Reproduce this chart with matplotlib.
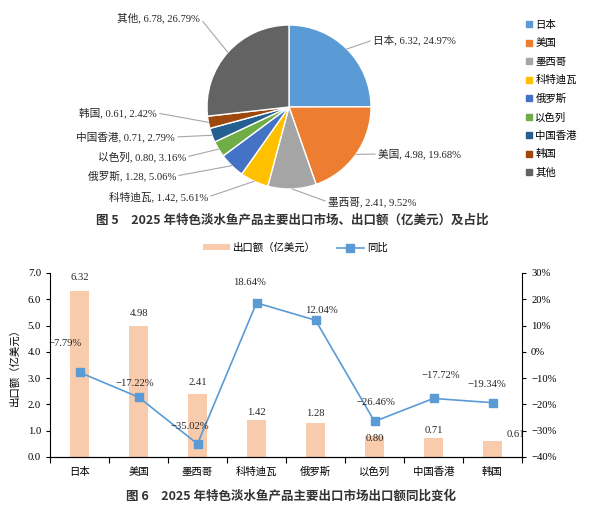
import numpy as np
import matplotlib.pyplot as plt
from matplotlib.patches import Patch
from matplotlib.lines import Line2D
from matplotlib.ticker import FuncFormatter

plt.rcParams['font.family'] = ['Noto Sans CJK SC', 'DejaVu Sans']
SERIF = ['Liberation Serif', 'Noto Sans CJK SC']
CJK = ['Noto Sans CJK SC', 'DejaVu Sans']

# ---- data: pie (figure 5)
pie_names = ['日本', '美国', '墨西哥', '科特迪瓦', '俄罗斯', '以色列', '中国香港', '韩国', '其他']
pie_values = [6.32, 4.98, 2.41, 1.42, 1.28, 0.80, 0.71, 0.61, 6.78]
pie_pcts = [24.97, 19.68, 9.52, 5.61, 5.06, 3.16, 2.79, 2.42, 26.79]

# ---- data: bars + line (figure 6)
markets = ['日本', '美国', '墨西哥', '科特迪瓦', '俄罗斯', '以色列', '中国香港', '韩国']
export_value = [6.32, 4.98, 2.41, 1.42, 1.28, 0.80, 0.71, 0.61]
yoy = [-7.79, -17.22, -35.02, 18.64, 12.04, -26.46, -17.72, -19.34]

pie_colors = ['#5B9BD5', '#ED7D31', '#A5A5A5', '#FFC000', '#4472C4',
              '#70AD47', '#255E91', '#9E480E', '#636363']

W, H = 600, 508
fig = plt.figure(figsize=(W / 100, H / 100), dpi=100)

# pie axes covers the top band, scaled so 1 data unit = R pixels
CX, CY, R = 289, 107, 82
TOP_H = 214
axp = fig.add_axes([0, 1 - TOP_H / H, 1, TOP_H / H])
wedges, _ = axp.pie(pie_values, colors=pie_colors, startangle=90, counterclock=False,
                    wedgeprops=dict(edgecolor='white', linewidth=1.0))
axp.set_aspect('auto')
axp.set_xlim(-CX / R, (W - CX) / R)
axp.set_ylim((CY - TOP_H) / R, CY / R)
axp.axis('off')

# label anchor positions (pixels) and alignment
pie_lab_px = [(373, 40, 'left'), (378, 154, 'left'), (328, 202, 'left'),
              (208, 197, 'right'), (176, 176, 'right'), (186, 157, 'right'),
              (175, 137, 'right'), (157, 113, 'right'), (200, 18, 'right')]
for w, name, v, p, (px, py, ha) in zip(wedges, pie_names, pie_values, pie_pcts, pie_lab_px):
    ang = np.deg2rad((w.theta1 + w.theta2) / 2)
    xy = (np.cos(ang), np.sin(ang))
    xt = ((px - CX) / R, (CY - py) / R)
    axp.annotate(f'{name}, {v:.2f}, {p:.2f}%', xy=xy, xytext=xt, ha=ha, va='center',
                 fontsize=7.7, family=SERIF, color='#262626',
                 arrowprops=dict(arrowstyle='-', color='#A6A6A6', lw=0.8,
                                 shrinkA=0, shrinkB=0,
                                 relpos=(0, 0.5) if ha == 'left' else (1, 0.5)))

pie_handles = [Line2D([], [], marker='s', linestyle='none', markersize=4,
                      markerfacecolor=c, markeredgecolor=c) for c in pie_colors]
fig.legend(pie_handles, pie_names, loc='upper left', bbox_to_anchor=(525 / W, 1 - 20 / H),
           frameon=False, fontsize=7.5, labelspacing=0.8, handletextpad=0.2,
           handlelength=0.8, borderaxespad=0, borderpad=0)

fig.text(292 / W, 1 - 220 / H, '图 5　2025 年特色淡水鱼产品主要出口市场、出口额（亿美元）及占比',
         ha='center', va='center', fontsize=9, fontweight='bold', color='#333333')

# ---- bar + line chart
ax = fig.add_axes([50 / W, (H - 457) / H, 472 / W, 184 / H])
x = np.arange(len(markets))
ax.bar(x, export_value, width=0.32, color='#F8CBAD', zorder=1)
ax.set_xlim(-0.5, len(markets) - 0.5)
ax.set_ylim(0, 7)
ax.set_yticks(np.arange(0, 7.01, 1))
ax.yaxis.set_major_formatter(FuncFormatter(lambda v, _: f'{v:.1f}'))
ax.set_xticks(x)
ax.set_xticklabels(markets, fontsize=7.5, family=CJK)
ax.set_xticks(np.arange(-0.5, len(markets), 1), minor=True)
ax.tick_params(axis='x', which='major', length=0, pad=7)
ax.tick_params(axis='x', which='minor', length=4, direction='out', width=0.8)
ax.tick_params(axis='y', length=3, direction='out', width=0.8)
for lab in ax.get_yticklabels():
    lab.set_family(SERIF)
    lab.set_fontsize(7.7)
ax.spines['top'].set_visible(False)
ax.spines['right'].set_visible(False)
ax.set_ylabel('出口额（亿美元）', fontsize=7.5, labelpad=6)

bar_off = [(0, 13), (0, 13), (0, 11), (0, 7), (0, 10), (0, -3), (0, 8), (23, 6)]
for xi, v, off in zip(x, export_value, bar_off):
    ax.annotate(f'{v:.2f}', (xi, v), xytext=off, textcoords='offset pixels',
                ha='center', va='center', fontsize=7.7, family=SERIF,
                color='#262626', clip_on=True)

ax2 = ax.twinx()
ax2.plot(x, yoy, color='#5B9BD5', lw=1.2, marker='s', markersize=6,
         markerfacecolor='#5B9BD5', markeredgecolor='#5B9BD5')
ax2.set_ylim(-40, 30)
ax2.set_yticks(np.arange(-40, 31, 10))
ax2.yaxis.set_major_formatter(FuncFormatter(lambda v, _: f'{v:.0f}%'.replace('-', '\u2212')))
ax2.tick_params(axis='y', length=3, direction='out', width=0.8)
for lab in ax2.get_yticklabels():
    lab.set_family(SERIF)
    lab.set_fontsize(7.7)
ax2.spines['top'].set_visible(False)
ax2.spines['left'].set_visible(False)

line_off = [(-14, 29), (-4, 14), (-8, 17), (-7, 20), (6, 10), (1, 19), (7, 23), (-6, 18)]
for xi, v, off in zip(x, yoy, line_off):
    ax2.annotate(f'{v:.2f}%'.replace('-', '\u2212'), (xi, v), xytext=off,
                 textcoords='offset pixels', ha='center', va='center',
                 fontsize=7.7, family=SERIF, color='#262626')

leg_handles = [Patch(facecolor='#F8CBAD', edgecolor='none'),
               Line2D([], [], color='#5B9BD5', lw=1.2, marker='s', markersize=6)]
fig.legend(leg_handles, ['出口额（亿美元）', '同比'], loc='center', ncol=2,
           bbox_to_anchor=(295 / W, 1 - 248 / H), frameon=False, fontsize=7.5,
           handlelength=2.6, handleheight=0.5, columnspacing=2.0, handletextpad=0.3)

fig.text(291 / W, 1 - 496 / H, '图 6　2025 年特色淡水鱼产品主要出口市场出口额同比变化',
         ha='center', va='center', fontsize=9, fontweight='bold', color='#333333')

fig.savefig('out.png', dpi=100)
